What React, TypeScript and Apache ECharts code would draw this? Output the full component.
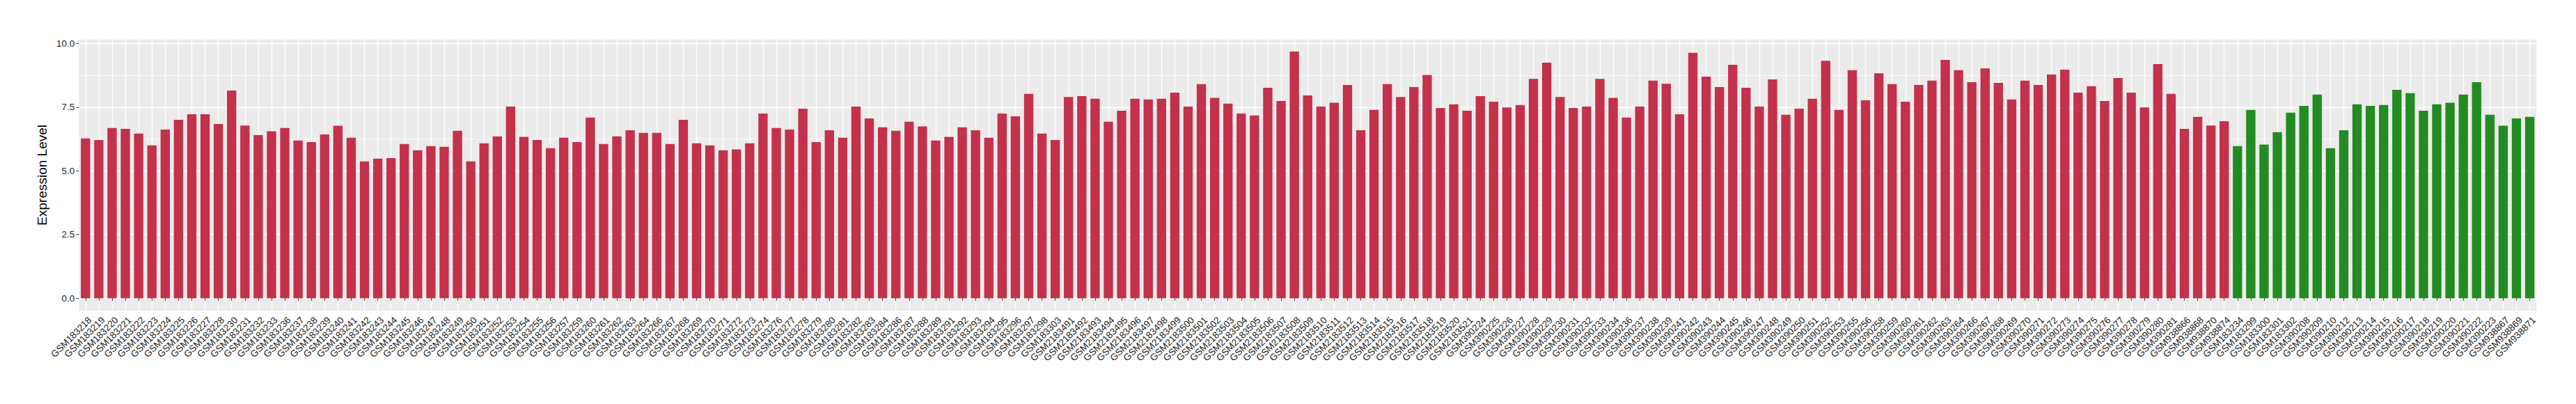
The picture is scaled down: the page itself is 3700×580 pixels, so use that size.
import React, { useEffect, useRef } from "react";
import * as echarts from "echarts";

// ---- Data ----
const caseSamples = [
  "GSM183218","GSM183219","GSM183220","GSM183221","GSM183222","GSM183223","GSM183224","GSM183225","GSM183226","GSM183227",
  "GSM183228","GSM183230","GSM183231","GSM183232","GSM183233","GSM183236","GSM183237","GSM183238","GSM183239","GSM183240",
  "GSM183241","GSM183242","GSM183243","GSM183244","GSM183245","GSM183246","GSM183247","GSM183248","GSM183249","GSM183250",
  "GSM183251","GSM183252","GSM183253","GSM183254","GSM183255","GSM183256","GSM183257","GSM183259","GSM183260","GSM183261",
  "GSM183262","GSM183263","GSM183264","GSM183266","GSM183267","GSM183268","GSM183269","GSM183270","GSM183271","GSM183272",
  "GSM183273","GSM183274","GSM183276","GSM183277","GSM183278","GSM183279","GSM183280","GSM183281","GSM183282","GSM183283",
  "GSM183284","GSM183286","GSM183287","GSM183288","GSM183289","GSM183291","GSM183292","GSM183293","GSM183294","GSM183295",
  "GSM183296","GSM183297","GSM183298","GSM183303","GSM2183491","GSM2183492","GSM2183493","GSM2183494","GSM2183495","GSM2183496",
  "GSM2183497","GSM2183498","GSM2183499","GSM2183500","GSM2183501","GSM2183502","GSM2183503","GSM2183504","GSM2183505","GSM2183506",
  "GSM2183507","GSM2183508","GSM2183509","GSM2183510","GSM2183511","GSM2183512","GSM2183513","GSM2183514","GSM2183515","GSM2183516",
  "GSM2183517","GSM2183518","GSM2183519","GSM2183520","GSM2183521","GSM390224","GSM390225","GSM390226","GSM390227","GSM390228",
  "GSM390229","GSM390230","GSM390231","GSM390232","GSM390233","GSM390234","GSM390236","GSM390237","GSM390238","GSM390239",
  "GSM390241","GSM390242","GSM390243","GSM390244","GSM390245","GSM390246","GSM390247","GSM390248","GSM390249","GSM390250",
  "GSM390251","GSM390252","GSM390253","GSM390255","GSM390256","GSM390258","GSM390259","GSM390260","GSM390261","GSM390262",
  "GSM390263","GSM390264","GSM390266","GSM390267","GSM390268","GSM390269","GSM390270","GSM390271","GSM390272","GSM390273",
  "GSM390274","GSM390275","GSM390276","GSM390277","GSM390278","GSM390279","GSM390280","GSM390281","GSM938866","GSM938868",
  "GSM938870","GSM938874"
];
const caseValues = [
  6.27,6.21,6.68,6.65,6.46,6.00,6.62,7.00,7.22,7.22,
  6.84,8.15,6.78,6.40,6.55,6.68,6.19,6.13,6.43,6.77,
  6.30,5.37,5.48,5.50,6.05,5.81,5.97,5.94,6.57,5.37,
  6.08,6.35,7.52,6.33,6.21,5.89,6.30,6.13,7.09,6.05,
  6.35,6.59,6.49,6.49,6.05,7.00,6.08,6.00,5.81,5.84,
  6.08,7.25,6.68,6.62,7.44,6.13,6.59,6.30,7.52,7.06,
  6.71,6.57,6.93,6.74,6.19,6.33,6.71,6.59,6.30,7.25,
  7.14,8.02,6.46,6.21,7.90,7.93,7.83,6.93,7.36,7.83,
  7.80,7.83,8.07,7.52,8.40,7.86,7.64,7.25,7.17,8.26,
  7.74,9.68,7.96,7.52,7.67,8.37,6.59,7.39,8.40,7.90,
  8.29,8.76,7.47,7.61,7.36,7.93,7.71,7.49,7.58,8.61,
  9.24,7.90,7.47,7.52,8.61,7.86,7.09,7.52,8.54,8.42,
  7.22,9.63,8.70,8.29,9.16,8.26,7.52,8.59,7.20,7.44,
  7.83,9.32,7.39,8.95,7.77,8.83,8.40,7.71,8.37,8.54,
  9.35,8.95,8.48,9.02,8.45,7.80,8.54,8.37,8.78,8.97,
  8.07,8.32,7.74,8.64,8.07,7.49,9.19,8.02,6.65,7.12,
  6.78,6.95
];
const controlSamples = [
  "GSM183234","GSM183299","GSM183300","GSM183301","GSM183302","GSM390208","GSM390209","GSM390210","GSM390212","GSM390213",
  "GSM390214","GSM390215","GSM390216","GSM390217","GSM390218","GSM390219","GSM390220","GSM390221","GSM390222","GSM390223",
  "GSM938867","GSM938869","GSM938871"
];
const controlValues = [
  5.97,7.39,6.03,6.52,7.28,7.55,7.99,5.89,6.59,7.61,
  7.55,7.58,8.18,8.05,7.36,7.61,7.67,7.99,8.48,7.20,
  6.77,7.06,7.12
];
const majorTicks = [0, 2.5, 5, 7.5, 10];
const minorTicks = [1.25, 3.75, 6.25, 8.75];
const caseColor = "#C3314A";
const controlColor = "#228B22";

const FONT = "'Liberation Sans', Arial, Helvetica, sans-serif";

export default function App() {
  const ref = useRef<HTMLDivElement>(null);
  useEffect(() => {
    if (!ref.current) return;
    const chart = echarts.init(ref.current, null, { renderer: "svg" });
    const categories = caseSamples.concat(controlSamples);
    const barData = caseValues
      .map((v) => ({ value: v, itemStyle: { color: caseColor } }))
      .concat(controlValues.map((v) => ({ value: v, itemStyle: { color: controlColor } })));
    const yMin = -0.4835;
    const yMax = 10.1535;
    chart.setOption({
      animation: false,
      backgroundColor: "#ffffff",
      grid: {
        left: 113.3,
        right: 3700 - 3643.1,
        top: 56.7,
        bottom: 580 - 445.9,
        show: true,
        backgroundColor: "#EBEBEB",
        borderWidth: 0,
      },
      xAxis: {
        type: "category",
        data: categories,
        boundaryGap: true,
        axisLine: { show: false },
        axisTick: {
          show: true,
          alignWithLabel: true,
          interval: 0,
          length: 3.5,
          lineStyle: { color: "#333333", width: 1 },
        },
        splitLine: {
          show: true,
          alignWithLabel: true,
          interval: 0,
          lineStyle: { color: "#FFFFFF", width: 1.4 },
        },
        axisLabel: {
          interval: 0,
          rotate: 45,
          margin: 5,
          align: "right",
          verticalAlign: "top",
          padding: [2, 0, 0, 0],
          fontSize: 13.5,
          fontFamily: FONT,
          color: "#222222",
        },
      },
      yAxis: [
        {
          type: "value",
          min: yMin,
          max: yMax,
          name: "Expression Level",
          nameLocation: "middle",
          nameGap: 39,
          nameTextStyle: { fontSize: 19, fontFamily: FONT, color: "#000000" },
          axisLine: { show: false },
          axisTick: {
            show: true,
            length: 4,
            customValues: majorTicks,
            lineStyle: { color: "#333333", width: 1 },
          },
          axisLabel: {
            show: true,
            customValues: majorTicks,
            margin: 6,
            fontSize: 13.5,
            fontFamily: FONT,
            color: "#222222",
            formatter: (v: number) => v.toFixed(1),
          },
          splitLine: { show: true, lineStyle: { color: "#FFFFFF", width: 1.4 } },
        },
        {
          type: "value",
          min: yMin,
          max: yMax,
          position: "left",
          axisLine: { show: false },
          axisTick: { show: false, customValues: minorTicks },
          axisLabel: { show: false, customValues: minorTicks },
          splitLine: { show: true, lineStyle: { color: "#FFFFFF", width: 0.7 } },
        },
      ],
      series: [
        {
          type: "bar",
          yAxisIndex: 0,
          data: barData,
          barWidth: "70%",
          z: 3,
        },
      ],
    });
    return () => chart.dispose();
  }, []);
  return (
    <div
      ref={ref}
      style={{ position: "fixed", left: 0, top: 0, width: 3700, height: 580 }}
    />
  );
}
